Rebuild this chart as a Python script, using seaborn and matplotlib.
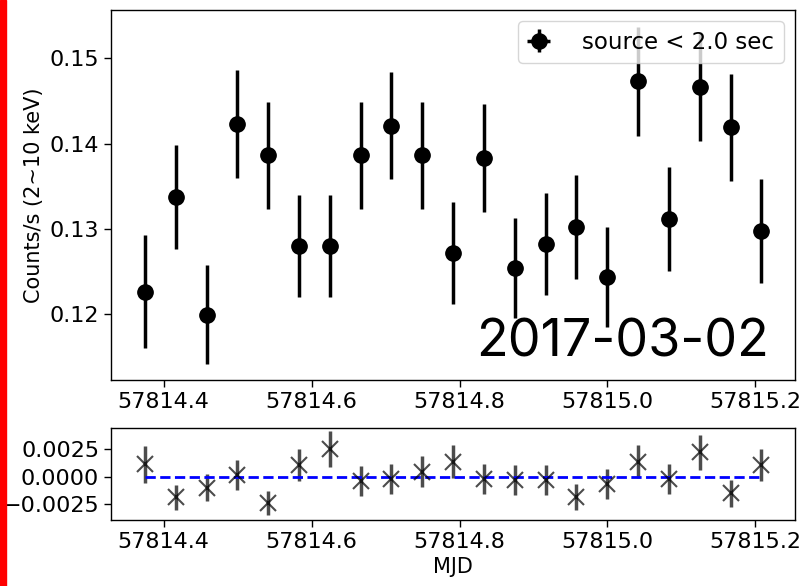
import numpy as np
import pandas as pd
import matplotlib
matplotlib.use("Agg")
import matplotlib.pyplot as plt
from matplotlib.patches import Rectangle
import seaborn as sns

# Hourly light-curve bins (MJD)
mjd = [57814.3747, 57814.4164, 57814.4580, 57814.4997, 57814.5414,
       57814.5830, 57814.6247, 57814.6664, 57814.7080, 57814.7497,
       57814.7914, 57814.8330, 57814.8747, 57814.9164, 57814.9580,
       57814.9997, 57815.0414, 57815.0830, 57815.1247, 57815.1664,
       57815.2080]

# Count rate (2-10 keV) and 1-sigma errors
rate = [0.1226, 0.1337, 0.1199, 0.1423, 0.1386, 0.1280, 0.1280,
        0.1386, 0.1421, 0.1386, 0.1271, 0.1383, 0.1254, 0.1282,
        0.1302, 0.1243, 0.1473, 0.1311, 0.1467, 0.1419, 0.1297]
rate_err = [0.0066, 0.0061, 0.0058, 0.0063, 0.0063, 0.0060, 0.0060,
            0.0063, 0.0063, 0.0063, 0.0060, 0.0063, 0.0059, 0.0060,
            0.0061, 0.0059, 0.0064, 0.0061, 0.0064, 0.0063, 0.0061]

# Residuals of the lower panel
resid = [0.00114, -0.00189, -0.00101, 0.00016, -0.00244, 0.00107, 0.00254,
         -0.00039, -0.00021, 0.00046, 0.00137, -0.00018, -0.00030, -0.00030,
         -0.00183, -0.00067, 0.00137, -0.00018, 0.00223, -0.00152, 0.00107]
resid_err = [0.00168, 0.00114, 0.00122, 0.00140, 0.00111, 0.00148, 0.00165,
             0.00134, 0.00137, 0.00145, 0.00153, 0.00137, 0.00134, 0.00134,
             0.00119, 0.00133, 0.00153, 0.00137, 0.00160, 0.00126, 0.00148]

xtick_vals = [57814.4, 57814.6, 57814.8, 57815.0, 57815.2]
xtick_labels = ["57814.4", "57814.6", "57814.8", "57815.0", "57815.2"]
legend_label = "source < 2.0 sec"
date_label = "2017-03-02"

df = pd.DataFrame({"mjd": mjd, "rate": rate, "err": rate_err,
                   "resid": resid, "resid_err": resid_err})

sns.set_style("ticks")
plt.rcParams.update({
    "font.family": ["DejaVu Sans"],
    "text.color": "black",
    "axes.labelcolor": "black",
    "axes.edgecolor": "black",
    "xtick.color": "black",
    "ytick.color": "black",
    "axes.linewidth": 1.0,
    "xtick.direction": "out",
    "ytick.direction": "out",
})

W, H = 807, 586
fig = plt.figure(figsize=(W / 100, H / 100), dpi=100)
fig.patch.set_facecolor("white")

ax = fig.add_axes([111 / W, 1 - 380 / H, 684 / W, 370 / H])
axr = fig.add_axes([111 / W, 1 - 520 / H, 684 / W, 92 / H])

# Upper panel: light curve
ax.errorbar(df["mjd"], df["rate"], yerr=df["err"], xerr=0, fmt="o",
            color="k", ms=11, elinewidth=2.5, capsize=0, label=legend_label)
sns.scatterplot(data=df, x="mjd", y="rate", ax=ax, color="k", s=121,
                edgecolor="k", linewidth=0, legend=False, zorder=3)
ax.set_xlim(57814.3288, 57815.2536)
ax.set_ylim(0.1122, 0.1557)
ax.set_yticks([0.12, 0.13, 0.14, 0.15])
ax.set_xticks(xtick_vals)
ax.set_xticklabels(xtick_labels)
ax.set_ylabel("Counts/s (2~10 keV)", fontsize=15)
ax.set_xlabel("")
ax.tick_params(labelsize=16, length=5, width=1)
ax.legend(loc="upper right", fontsize=16.5, handletextpad=1.4,
          borderpad=0.4, handlelength=1.0)
ax.text(0.962, 0.035, date_label, transform=ax.transAxes, ha="right",
        va="bottom", fontsize=37.5, family=["Inter", "DejaVu Sans"])

# Lower panel: residuals
axr.errorbar(df["mjd"], df["resid"], yerr=df["resid_err"], fmt="x",
             color="k", alpha=0.7, ms=12, mew=1.5, elinewidth=2.5)
zero = pd.DataFrame({"mjd": [mjd[0], mjd[-1]], "y": [0.0, 0.0]})
sns.lineplot(data=zero, x="mjd", y="y", ax=axr, color="blue",
             linestyle="--", linewidth=2)
axr.set_xlim(57814.3288, 57815.2536)
axr.set_ylim(-0.00397, 0.00446)
axr.set_yticks([-0.0025, 0.0, 0.0025])
axr.set_yticklabels(["\u22120.0025", "0.0000", "0.0025"])
axr.set_xticks(xtick_vals)
axr.set_xticklabels(xtick_labels)
axr.set_ylabel("")
axr.set_xlabel("MJD", fontsize=15)
axr.tick_params(labelsize=16, length=5, width=1)

# Red marker strip along the left edge
fig.patches.append(Rectangle((0, 0), 6 / W, 1, transform=fig.transFigure,
                             color="red", zorder=10))

fig.savefig("out.png", dpi=100)
